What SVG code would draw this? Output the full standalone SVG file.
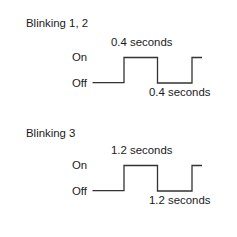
<svg xmlns="http://www.w3.org/2000/svg" width="237" height="237" viewBox="0 0 237 237">
<style>
text{font-family:"Liberation Sans",Arial,sans-serif;font-size:11.4px;fill:#1a1a1a}
.w{fill:none;stroke:#333;stroke-width:1.3}
</style>
<rect width="237" height="237" fill="#fff"/>
<g id="blink12">
<text x="26" y="27">Blinking 1, 2</text>
<text x="111" y="46">0.4 seconds</text>
<text x="72" y="61">On</text>
<text x="72" y="86.5">Off</text>
<text x="149" y="96">0.4 seconds</text>
</g>
<g id="blink3">
<text x="26" y="137">Blinking 3</text>
<text x="111" y="154">1.2 seconds</text>
<text x="72" y="169">On</text>
<text x="72" y="194.5">Off</text>
<text x="149" y="204">1.2 seconds</text>
</g>
<g id="connectors">
<path class="w" d="M92.5 82.7H124V57.5H157.5V83H192V57.5H202"/>
<path class="w" d="M92.5 190.7H124V165.5H157.5V191H192V165.5H202"/>
</g>
</svg>
